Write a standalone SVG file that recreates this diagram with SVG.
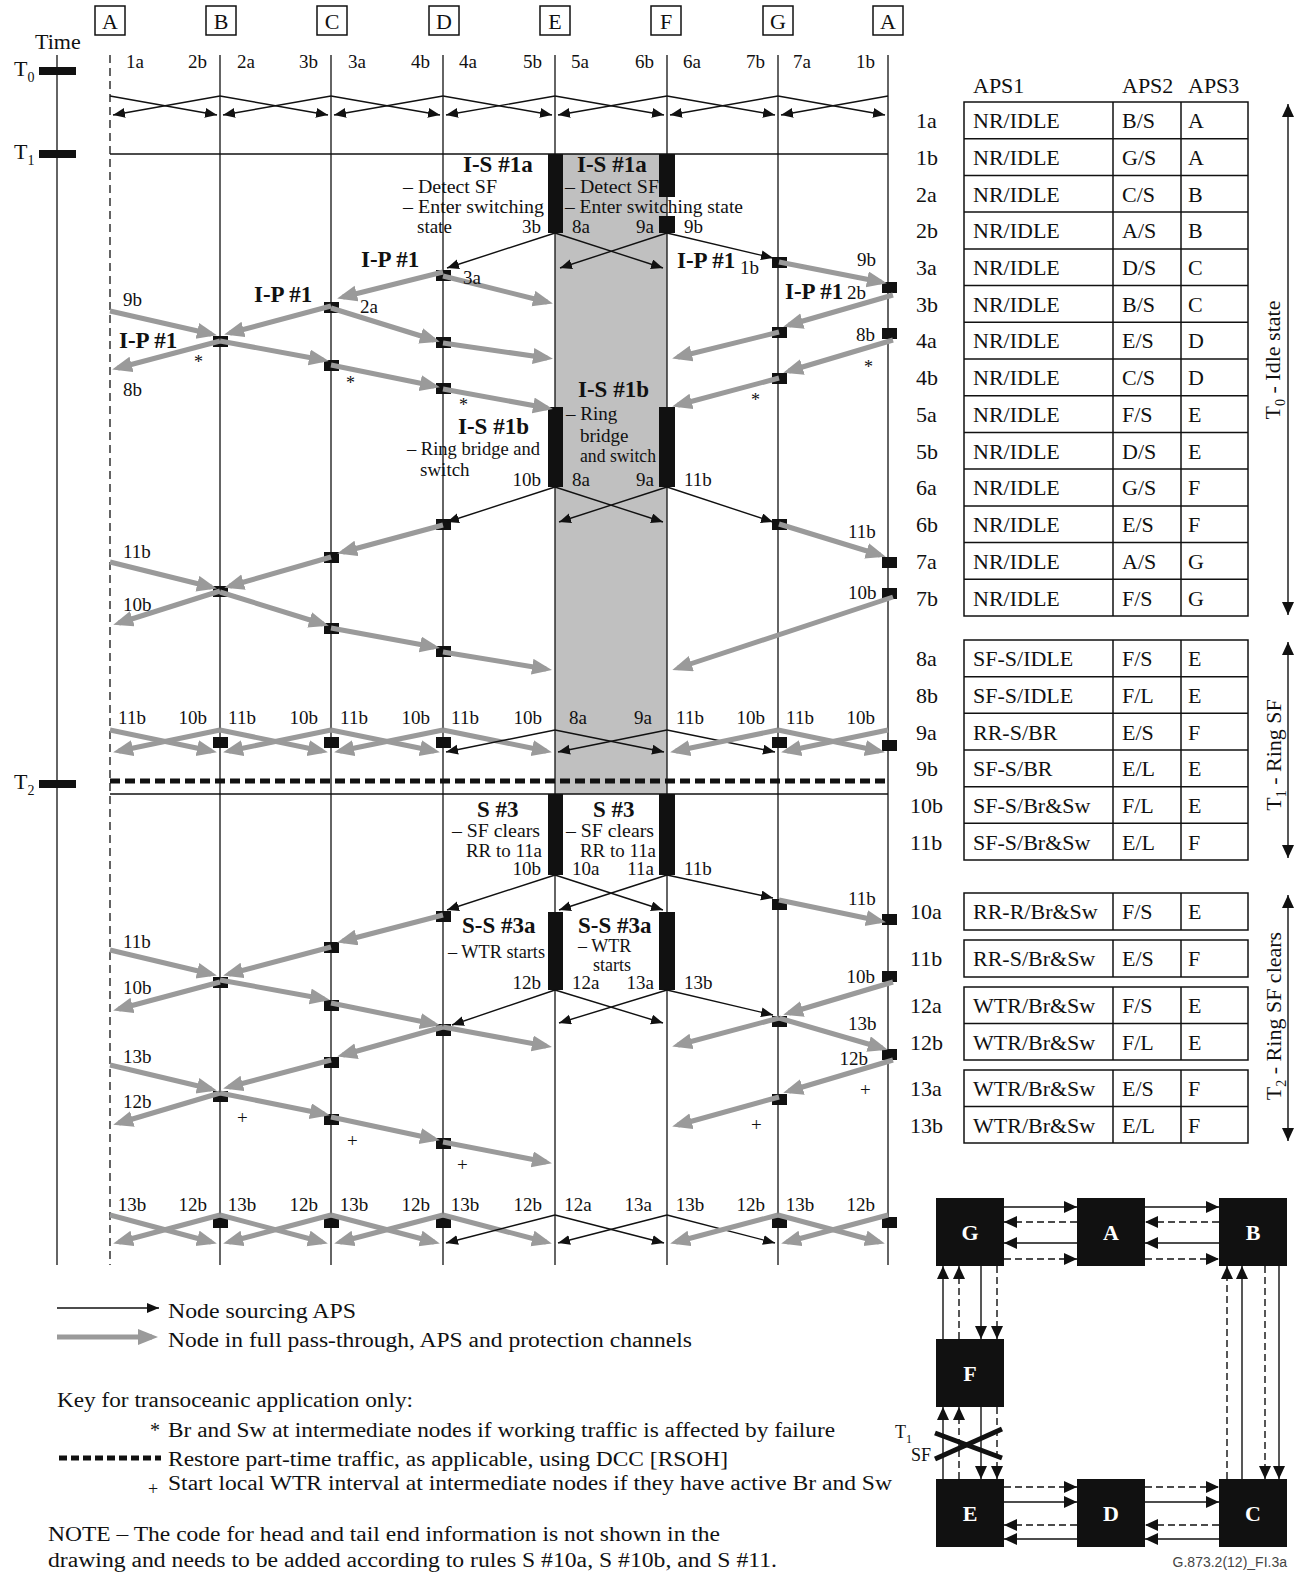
<svg xmlns="http://www.w3.org/2000/svg" width="1310" height="1573" viewBox="0 0 1310 1573">
<style>
text{font-family:"Liberation Serif","Times New Roman",serif;fill:#111}
.l{font-size:19px}
.d{font-size:19px}
.b{font-size:23px;font-weight:bold}
.h{font-size:22px}
.tb{font-size:22px}
.n{stroke:#111;stroke-width:1.3;fill:none}
.k{stroke:#111;stroke-width:1.4;fill:none;marker-end:url(#mb)}
.g{stroke:#9a9a9a;stroke-width:5;fill:none;marker-end:url(#mg)}
.sq{fill:#111}
.cell{fill:none;stroke:#111;stroke-width:1.5}
.rd{stroke-dasharray:7,4}
.w{fill:#fff;font-weight:bold;font-size:22px}
.rb{fill:#111}
</style>
<defs>
<marker id="mb" markerUnits="userSpaceOnUse" markerWidth="14" markerHeight="12" refX="12" refY="5" orient="auto"><path d="M0,0 L12,5 L0,10 z" fill="#111"/></marker>
<marker id="mg" markerUnits="userSpaceOnUse" markerWidth="22" markerHeight="18" refX="14" refY="8" orient="auto"><path d="M0,0 L20,8 L0,16 z" fill="#9a9a9a"/></marker>
<marker id="mt" markerUnits="userSpaceOnUse" markerWidth="14" markerHeight="14" refX="13" refY="6" orient="auto-start-reverse"><path d="M0,0 L13,6 L0,12 z" fill="#111"/></marker>
</defs>
<rect width="1310" height="1573" fill="#fff"/>

<!-- shaded switching span -->
<rect x="555" y="154" width="112" height="640" fill="#c0c0c0"/>

<!-- time axis -->
<g id="time-axis">
<text class="h" x="35" y="49">Time</text>
<line class="n" x1="57" y1="55" x2="57" y2="1265"/>
<rect x="39" y="67" width="37" height="8" fill="#111"/>
<rect x="39" y="150" width="37" height="8" fill="#111"/>
<rect x="39" y="780" width="37" height="8" fill="#111"/>
<text class="h" x="14" y="76">T<tspan dy="6" font-size="14">0</tspan></text>
<text class="h" x="14" y="159">T<tspan dy="6" font-size="14">1</tspan></text>
<text class="h" x="14" y="789">T<tspan dy="6" font-size="14">2</tspan></text>
</g>

<!-- horizontal event lines -->
<g id="event-lines">
<line class="n" x1="110" y1="154" x2="888" y2="154"/>
<line x1="110" y1="781" x2="888" y2="781" stroke="#111" stroke-width="5" stroke-dasharray="10,5"/>
<line class="n" x1="110" y1="794" x2="888" y2="794"/>
</g>

<!-- nodes -->
<g id="node-A-left">
<rect class="cell" x="95" y="6" width="30" height="29"/><text class="h" x="110" y="29" text-anchor="middle">A</text>
<line x1="110" y1="55" x2="110" y2="1265" stroke="#111" stroke-width="1.3" stroke-dasharray="8,5"/>
</g>
<g id="node-B">
<rect class="cell" x="206" y="6" width="30" height="29"/><text class="h" x="221" y="29" text-anchor="middle">B</text>
<line class="n" x1="220" y1="55" x2="220" y2="1265"/>
<rect class="sq" x="213" y="336" width="15" height="11"/>
<rect class="sq" x="213" y="586" width="15" height="11"/>
<rect class="sq" x="213" y="737" width="15" height="11"/>
<rect class="sq" x="213" y="977" width="15" height="11"/>
<rect class="sq" x="213" y="1091" width="15" height="11"/>
<rect class="sq" x="213" y="1217" width="15" height="11"/>
</g>
<g id="node-C">
<rect class="cell" x="317" y="6" width="30" height="29"/><text class="h" x="332" y="29" text-anchor="middle">C</text>
<line class="n" x1="331" y1="55" x2="331" y2="1265"/>
<rect class="sq" x="324" y="302" width="15" height="11"/>
<rect class="sq" x="324" y="360" width="15" height="11"/>
<rect class="sq" x="324" y="552" width="15" height="11"/>
<rect class="sq" x="324" y="623" width="15" height="11"/>
<rect class="sq" x="324" y="737" width="15" height="11"/>
<rect class="sq" x="324" y="942" width="15" height="11"/>
<rect class="sq" x="324" y="1000" width="15" height="11"/>
<rect class="sq" x="324" y="1057" width="15" height="11"/>
<rect class="sq" x="324" y="1114" width="15" height="11"/>
<rect class="sq" x="324" y="1217" width="15" height="11"/>
</g>
<g id="node-D">
<rect class="cell" x="429" y="6" width="30" height="29"/><text class="h" x="444" y="29" text-anchor="middle">D</text>
<line class="n" x1="443" y1="55" x2="443" y2="1265"/>
<rect class="sq" x="436" y="270" width="15" height="11"/>
<rect class="sq" x="436" y="337" width="15" height="11"/>
<rect class="sq" x="436" y="383" width="15" height="11"/>
<rect class="sq" x="436" y="519" width="15" height="11"/>
<rect class="sq" x="436" y="646" width="15" height="11"/>
<rect class="sq" x="436" y="737" width="15" height="11"/>
<rect class="sq" x="436" y="911" width="15" height="11"/>
<rect class="sq" x="436" y="1024" width="15" height="12"/>
<rect class="sq" x="436" y="1138" width="15" height="11"/>
<rect class="sq" x="436" y="1217" width="15" height="11"/>
</g>
<g id="node-E">
<rect class="cell" x="540" y="6" width="30" height="29"/><text class="h" x="555" y="29" text-anchor="middle">E</text>
<line class="n" x1="555" y1="55" x2="555" y2="1265"/>
<rect class="rb" x="548" y="154" width="15" height="79"/>
<rect class="rb" x="548" y="407" width="15" height="80"/>
<rect class="rb" x="548" y="794" width="15" height="81"/>
<rect class="rb" x="548" y="912" width="15" height="78"/>
</g>
<g id="node-F">
<rect class="cell" x="651" y="6" width="30" height="29"/><text class="h" x="666" y="29" text-anchor="middle">F</text>
<line class="n" x1="667" y1="55" x2="667" y2="1265"/>
<rect class="rb" x="659" y="154" width="16" height="43"/>
<rect class="rb" x="659" y="216" width="16" height="17"/>
<rect class="rb" x="659" y="407" width="16" height="80"/>
<rect class="rb" x="659" y="794" width="16" height="81"/>
<rect class="rb" x="659" y="912" width="16" height="78"/>
</g>
<g id="node-G">
<rect class="cell" x="763" y="6" width="30" height="29"/><text class="h" x="778" y="29" text-anchor="middle">G</text>
<line class="n" x1="778" y1="55" x2="778" y2="1265"/>
<rect class="sq" x="772" y="257" width="15" height="11"/>
<rect class="sq" x="772" y="327" width="15" height="11"/>
<rect class="sq" x="772" y="373" width="15" height="11"/>
<rect class="sq" x="772" y="519" width="15" height="11"/>
<rect class="sq" x="772" y="737" width="15" height="11"/>
<rect class="sq" x="772" y="899" width="15" height="11"/>
<rect class="sq" x="772" y="1016" width="15" height="11"/>
<rect class="sq" x="772" y="1094" width="15" height="11"/>
<rect class="sq" x="772" y="1217" width="15" height="11"/>
</g>
<g id="node-A-right">
<rect class="cell" x="873" y="6" width="30" height="29"/><text class="h" x="888" y="29" text-anchor="middle">A</text>
<line class="n" x1="888" y1="55" x2="888" y2="1265"/>
<rect class="sq" x="882" y="282" width="15" height="11"/>
<rect class="sq" x="882" y="328" width="15" height="11"/>
<rect class="sq" x="882" y="557" width="15" height="11"/>
<rect class="sq" x="882" y="588" width="15" height="11"/>
<rect class="sq" x="882" y="740" width="15" height="11"/>
<rect class="sq" x="882" y="914" width="15" height="11"/>
<rect class="sq" x="882" y="971" width="15" height="11"/>
<rect class="sq" x="882" y="1049" width="15" height="11"/>
<rect class="sq" x="882" y="1217" width="15" height="11"/>
</g>

<!-- connectors -->
<g id="connectors">
<!-- T0 idle exchange -->
<line class="k" x1="110" y1="96" x2="217" y2="115"/><line class="k" x1="220" y1="96" x2="113" y2="115"/>
<line class="k" x1="220" y1="96" x2="328" y2="115"/><line class="k" x1="331" y1="96" x2="223" y2="115"/>
<line class="k" x1="331" y1="96" x2="440" y2="115"/><line class="k" x1="443" y1="96" x2="334" y2="115"/>
<line class="k" x1="443" y1="96" x2="552" y2="115"/><line class="k" x1="555" y1="96" x2="446" y2="115"/>
<line class="k" x1="555" y1="96" x2="664" y2="115"/><line class="k" x1="667" y1="96" x2="558" y2="115"/>
<line class="k" x1="667" y1="96" x2="775" y2="115"/><line class="k" x1="778" y1="96" x2="670" y2="115"/>
<line class="k" x1="778" y1="96" x2="885" y2="115"/><line class="k" x1="888" y1="96" x2="781" y2="115"/>

<!-- T1 phase 1 black -->
<line class="k" x1="555" y1="233" x2="447" y2="268"/>
<line class="k" x1="555" y1="233" x2="663" y2="268"/>
<line class="k" x1="667" y1="233" x2="560" y2="268"/>
<line class="k" x1="667" y1="233" x2="773" y2="258"/>
<!-- phase 1 gray left -->
<line class="g" x1="443" y1="272" x2="343" y2="297"/>
<line class="g" x1="331" y1="306" x2="230" y2="333"/>
<line class="g" x1="220" y1="341" x2="118" y2="368"/>
<line class="g" x1="110" y1="311" x2="211" y2="334"/>
<line class="g" x1="220" y1="341" x2="323" y2="360"/>
<line class="g" x1="331" y1="365" x2="434" y2="386"/>
<line class="g" x1="443" y1="389" x2="547" y2="408"/>
<line class="g" x1="331" y1="308" x2="434" y2="340"/>
<line class="g" x1="443" y1="343" x2="547" y2="358"/>
<line class="g" x1="443" y1="276" x2="547" y2="302"/>
<!-- phase 1 gray right -->
<line class="g" x1="779" y1="262" x2="881" y2="282"/>
<line class="g" x1="893" y1="295" x2="789" y2="325"/>
<line class="g" x1="779" y1="332" x2="678" y2="357"/>
<line class="g" x1="893" y1="340" x2="789" y2="371"/>
<line class="g" x1="779" y1="378" x2="678" y2="405"/>

<!-- phase 2 black -->
<line class="k" x1="555" y1="487" x2="447" y2="522"/>
<line class="k" x1="555" y1="487" x2="663" y2="522"/>
<line class="k" x1="667" y1="487" x2="559" y2="522"/>
<line class="k" x1="667" y1="487" x2="773" y2="522"/>
<!-- phase 2 gray left -->
<line class="g" x1="443" y1="525" x2="343" y2="552"/>
<line class="g" x1="331" y1="557" x2="230" y2="586"/>
<line class="g" x1="220" y1="591" x2="119" y2="623"/>
<line class="g" x1="110" y1="562" x2="211" y2="587"/>
<line class="g" x1="220" y1="592" x2="323" y2="624"/>
<line class="g" x1="331" y1="628" x2="434" y2="647"/>
<line class="g" x1="443" y1="652" x2="546" y2="669"/>
<!-- phase 2 gray right -->
<line class="g" x1="779" y1="524" x2="880" y2="555"/>
<line class="g" x1="893" y1="597" x2="678" y2="668"/>

<!-- phase 2 steady-state exchange -->
<line class="g" x1="110" y1="730" x2="211" y2="751"/><line class="g" x1="220" y1="730" x2="119" y2="751"/>
<line class="g" x1="220" y1="730" x2="322" y2="751"/><line class="g" x1="331" y1="730" x2="229" y2="751"/>
<line class="g" x1="331" y1="730" x2="434" y2="751"/><line class="g" x1="443" y1="730" x2="340" y2="751"/>
<line class="g" x1="443" y1="730" x2="546" y2="751"/><line class="k" x1="555" y1="730" x2="446" y2="752"/>
<line class="k" x1="555" y1="730" x2="664" y2="752"/><line class="k" x1="667" y1="730" x2="558" y2="752"/>
<line class="k" x1="667" y1="730" x2="775" y2="752"/><line class="g" x1="778" y1="730" x2="676" y2="751"/>
<line class="g" x1="778" y1="730" x2="879" y2="751"/><line class="g" x1="888" y1="730" x2="787" y2="751"/>

<!-- phase 3 black -->
<line class="k" x1="555" y1="875" x2="447" y2="910"/>
<line class="k" x1="555" y1="875" x2="663" y2="910"/>
<line class="k" x1="667" y1="875" x2="559" y2="910"/>
<line class="k" x1="667" y1="875" x2="773" y2="898"/>
<line class="k" x1="555" y1="990" x2="452" y2="1025"/>
<line class="k" x1="555" y1="990" x2="663" y2="1023"/>
<line class="k" x1="667" y1="990" x2="559" y2="1023"/>
<line class="k" x1="667" y1="990" x2="773" y2="1015"/>
<!-- phase 3 gray left -->
<line class="g" x1="443" y1="915" x2="343" y2="941"/>
<line class="g" x1="331" y1="947" x2="229" y2="974"/>
<line class="g" x1="220" y1="982" x2="119" y2="1009"/>
<line class="g" x1="110" y1="950" x2="211" y2="974"/>
<line class="g" x1="220" y1="980" x2="324" y2="999"/>
<line class="g" x1="331" y1="1003" x2="434" y2="1024"/>
<line class="g" x1="443" y1="1027" x2="546" y2="1046"/>
<line class="g" x1="443" y1="1027" x2="343" y2="1055"/>
<line class="g" x1="331" y1="1060" x2="229" y2="1087"/>
<line class="g" x1="220" y1="1093" x2="119" y2="1123"/>
<line class="g" x1="110" y1="1065" x2="211" y2="1089"/>
<line class="g" x1="220" y1="1093" x2="324" y2="1114"/>
<line class="g" x1="331" y1="1117" x2="434" y2="1139"/>
<line class="g" x1="443" y1="1142" x2="546" y2="1162"/>
<!-- phase 3 gray right -->
<line class="g" x1="779" y1="900" x2="880" y2="921"/>
<line class="g" x1="893" y1="982" x2="789" y2="1013"/>
<line class="g" x1="779" y1="1018" x2="678" y2="1045"/>
<line class="g" x1="779" y1="1018" x2="882" y2="1048"/>
<line class="g" x1="893" y1="1060" x2="789" y2="1091"/>
<line class="g" x1="779" y1="1097" x2="678" y2="1125"/>

<!-- final steady exchange -->
<line class="g" x1="110" y1="1215" x2="211" y2="1242"/><line class="g" x1="220" y1="1215" x2="119" y2="1242"/>
<line class="g" x1="220" y1="1215" x2="322" y2="1242"/><line class="g" x1="331" y1="1215" x2="229" y2="1242"/>
<line class="g" x1="331" y1="1215" x2="434" y2="1242"/><line class="g" x1="443" y1="1215" x2="340" y2="1242"/>
<line class="g" x1="443" y1="1215" x2="546" y2="1242"/><line class="k" x1="555" y1="1215" x2="446" y2="1243"/>
<line class="k" x1="555" y1="1215" x2="664" y2="1243"/><line class="k" x1="667" y1="1215" x2="558" y2="1243"/>
<line class="k" x1="667" y1="1215" x2="775" y2="1243"/><line class="g" x1="778" y1="1215" x2="676" y2="1242"/>
<line class="g" x1="778" y1="1215" x2="879" y2="1242"/><line class="g" x1="888" y1="1215" x2="787" y2="1242"/>
</g>

<!-- message labels -->
<g id="labels">
<g class="l">
<text x="135" y="68" text-anchor="middle">1a</text><text x="207" y="68" text-anchor="end">2b</text>
<text x="246" y="68" text-anchor="middle">2a</text><text x="318" y="68" text-anchor="end">3b</text>
<text x="357" y="68" text-anchor="middle">3a</text><text x="430" y="68" text-anchor="end">4b</text>
<text x="468" y="68" text-anchor="middle">4a</text><text x="542" y="68" text-anchor="end">5b</text>
<text x="580" y="68" text-anchor="middle">5a</text><text x="654" y="68" text-anchor="end">6b</text>
<text x="692" y="68" text-anchor="middle">6a</text><text x="765" y="68" text-anchor="end">7b</text>
<text x="802" y="68" text-anchor="middle">7a</text><text x="875" y="68" text-anchor="end">1b</text>

<text x="132" y="724" text-anchor="middle">11b</text><text x="207" y="724" text-anchor="end">10b</text>
<text x="242" y="724" text-anchor="middle">11b</text><text x="318" y="724" text-anchor="end">10b</text>
<text x="354" y="724" text-anchor="middle">11b</text><text x="430" y="724" text-anchor="end">10b</text>
<text x="465" y="724" text-anchor="middle">11b</text><text x="542" y="724" text-anchor="end">10b</text>
<text x="578" y="724" text-anchor="middle">8a</text><text x="652" y="724" text-anchor="end">9a</text>
<text x="690" y="724" text-anchor="middle">11b</text><text x="765" y="724" text-anchor="end">10b</text>
<text x="800" y="724" text-anchor="middle">11b</text><text x="875" y="724" text-anchor="end">10b</text>

<text x="132" y="1211" text-anchor="middle">13b</text><text x="207" y="1211" text-anchor="end">12b</text>
<text x="242" y="1211" text-anchor="middle">13b</text><text x="318" y="1211" text-anchor="end">12b</text>
<text x="354" y="1211" text-anchor="middle">13b</text><text x="430" y="1211" text-anchor="end">12b</text>
<text x="465" y="1211" text-anchor="middle">13b</text><text x="542" y="1211" text-anchor="end">12b</text>
<text x="578" y="1211" text-anchor="middle">12a</text><text x="652" y="1211" text-anchor="end">13a</text>
<text x="690" y="1211" text-anchor="middle">13b</text><text x="765" y="1211" text-anchor="end">12b</text>
<text x="800" y="1211" text-anchor="middle">13b</text><text x="875" y="1211" text-anchor="end">12b</text>

<text x="541" y="233" text-anchor="end">3b</text><text x="572" y="233">8a</text>
<text x="654" y="233" text-anchor="end">9a</text><text x="684" y="233">9b</text>
<text x="463" y="284">3a</text><text x="360" y="313">2a</text>
<text x="123" y="306">9b</text><text x="123" y="396">8b</text>
<text x="740" y="274">1b</text><text x="857" y="266">9b</text>
<text x="847" y="299">2b</text><text x="856" y="341">8b</text>
<text x="541" y="486" text-anchor="end">10b</text><text x="572" y="486">8a</text>
<text x="654" y="486" text-anchor="end">9a</text><text x="684" y="486">11b</text>
<text x="123" y="558">11b</text><text x="123" y="611">10b</text>
<text x="848" y="538">11b</text><text x="848" y="599">10b</text>
<text x="541" y="875" text-anchor="end">10b</text><text x="572" y="875">10a</text>
<text x="654" y="875" text-anchor="end">11a</text><text x="684" y="875">11b</text>
<text x="541" y="989" text-anchor="end">12b</text><text x="572" y="989">12a</text>
<text x="654" y="989" text-anchor="end">13a</text><text x="684" y="989">13b</text>
<text x="123" y="948">11b</text><text x="123" y="994">10b</text>
<text x="123" y="1063">13b</text><text x="123" y="1108">12b</text>
<text x="848" y="905">11b</text><text x="875" y="983" text-anchor="end">10b</text>
<text x="848" y="1030">13b</text><text x="868" y="1065" text-anchor="end">12b</text>
</g>
<g font-size="18">
<text x="194" y="368">*</text><text x="346" y="389">*</text><text x="459" y="411">*</text>
<text x="751" y="406">*</text><text x="864" y="373">*</text>
</g>
<g class="d">
<text x="237" y="1124">+</text><text x="347" y="1147">+</text><text x="457" y="1171">+</text>
<text x="860" y="1096">+</text><text x="751" y="1131">+</text>
</g>

<g class="b">
<text x="463" y="172">I-S #1a</text><text x="577" y="172">I-S #1a</text>
<text x="361" y="267">I-P #1</text><text x="254" y="302">I-P #1</text><text x="119" y="348">I-P #1</text>
<text x="677" y="268">I-P #1</text><text x="785" y="299">I-P #1</text>
<text x="458" y="434">I-S #1b</text><text x="578" y="397">I-S #1b</text>
<text x="477" y="817">S #3</text><text x="593" y="817">S #3</text>
<text x="462" y="933">S-S #3a</text><text x="578" y="933">S-S #3a</text>
</g>
<g class="d">
<text x="403" y="193" textLength="94" lengthAdjust="spacingAndGlyphs">– Detect SF</text>
<text x="403" y="213" textLength="141" lengthAdjust="spacingAndGlyphs">– Enter switching</text>
<text x="417" y="233">state</text>
<text x="565" y="193" textLength="94" lengthAdjust="spacingAndGlyphs">– Detect SF</text>
<text x="565" y="213" textLength="178" lengthAdjust="spacingAndGlyphs">– Enter switching state</text>
<text x="407" y="455" textLength="133" lengthAdjust="spacingAndGlyphs">– Ring bridge and</text>
<text x="420" y="476">switch</text>
<text x="566" y="420">– Ring</text>
<text x="580" y="442">bridge</text>
<text x="580" y="462" textLength="76" lengthAdjust="spacingAndGlyphs">and switch</text>
<text x="452" y="837" textLength="88" lengthAdjust="spacingAndGlyphs">– SF clears</text>
<text x="466" y="857" textLength="76" lengthAdjust="spacingAndGlyphs">RR to 11a</text>
<text x="566" y="837" textLength="88" lengthAdjust="spacingAndGlyphs">– SF clears</text>
<text x="580" y="857" textLength="76" lengthAdjust="spacingAndGlyphs">RR to 11a</text>
<text x="448" y="958" textLength="97" lengthAdjust="spacingAndGlyphs">– WTR starts</text>
<text x="578" y="952" font-size="18">– WTR</text>
<text x="593" y="971" font-size="18">starts</text>
</g>
</g>

<!-- APS tables -->
<g id="aps-table">
<g class="tb">
<text x="973" y="93">APS1</text><text x="1122" y="93">APS2</text><text x="1188" y="93">APS3</text>
</g>
<g class="cell">
<rect x="964" y="102" width="284" height="514"/>
<line x1="1113" y1="102" x2="1113" y2="616"/><line x1="1181" y1="102" x2="1181" y2="616"/>
<line x1="964" y1="138.7" x2="1248" y2="138.7"/><line x1="964" y1="175.4" x2="1248" y2="175.4"/>
<line x1="964" y1="212.1" x2="1248" y2="212.1"/><line x1="964" y1="248.9" x2="1248" y2="248.9"/>
<line x1="964" y1="285.6" x2="1248" y2="285.6"/><line x1="964" y1="322.3" x2="1248" y2="322.3"/>
<line x1="964" y1="359" x2="1248" y2="359"/><line x1="964" y1="395.7" x2="1248" y2="395.7"/>
<line x1="964" y1="432.4" x2="1248" y2="432.4"/><line x1="964" y1="469.1" x2="1248" y2="469.1"/>
<line x1="964" y1="505.9" x2="1248" y2="505.9"/><line x1="964" y1="542.6" x2="1248" y2="542.6"/>
<line x1="964" y1="579.3" x2="1248" y2="579.3"/>
<rect x="964" y="640" width="284" height="220"/>
<line x1="1113" y1="640" x2="1113" y2="860"/><line x1="1181" y1="640" x2="1181" y2="860"/>
<line x1="964" y1="676.7" x2="1248" y2="676.7"/><line x1="964" y1="713.3" x2="1248" y2="713.3"/>
<line x1="964" y1="750" x2="1248" y2="750"/><line x1="964" y1="786.7" x2="1248" y2="786.7"/>
<line x1="964" y1="823.3" x2="1248" y2="823.3"/>
<rect x="964" y="893" width="284" height="37"/>
<line x1="1113" y1="893" x2="1113" y2="930"/><line x1="1181" y1="893" x2="1181" y2="930"/>
<rect x="964" y="940" width="284" height="37"/>
<line x1="1113" y1="940" x2="1113" y2="977"/><line x1="1181" y1="940" x2="1181" y2="977"/>
<rect x="964" y="987" width="284" height="73"/>
<line x1="1113" y1="987" x2="1113" y2="1060"/><line x1="1181" y1="987" x2="1181" y2="1060"/>
<line x1="964" y1="1023.5" x2="1248" y2="1023.5"/>
<rect x="964" y="1070" width="284" height="73"/>
<line x1="1113" y1="1070" x2="1113" y2="1143"/><line x1="1181" y1="1070" x2="1181" y2="1143"/>
<line x1="964" y1="1106.5" x2="1248" y2="1106.5"/>
</g>
<g class="tb">
<text x="916" y="128">1a</text><text x="973" y="128">NR/IDLE</text><text x="1122" y="128">B/S</text><text x="1188" y="128">A</text>
<text x="916" y="165">1b</text><text x="973" y="165">NR/IDLE</text><text x="1122" y="165">G/S</text><text x="1188" y="165">A</text>
<text x="916" y="202">2a</text><text x="973" y="202">NR/IDLE</text><text x="1122" y="202">C/S</text><text x="1188" y="202">B</text>
<text x="916" y="238">2b</text><text x="973" y="238">NR/IDLE</text><text x="1122" y="238">A/S</text><text x="1188" y="238">B</text>
<text x="916" y="275">3a</text><text x="973" y="275">NR/IDLE</text><text x="1122" y="275">D/S</text><text x="1188" y="275">C</text>
<text x="916" y="312">3b</text><text x="973" y="312">NR/IDLE</text><text x="1122" y="312">B/S</text><text x="1188" y="312">C</text>
<text x="916" y="348">4a</text><text x="973" y="348">NR/IDLE</text><text x="1122" y="348">E/S</text><text x="1188" y="348">D</text>
<text x="916" y="385">4b</text><text x="973" y="385">NR/IDLE</text><text x="1122" y="385">C/S</text><text x="1188" y="385">D</text>
<text x="916" y="422">5a</text><text x="973" y="422">NR/IDLE</text><text x="1122" y="422">F/S</text><text x="1188" y="422">E</text>
<text x="916" y="459">5b</text><text x="973" y="459">NR/IDLE</text><text x="1122" y="459">D/S</text><text x="1188" y="459">E</text>
<text x="916" y="495">6a</text><text x="973" y="495">NR/IDLE</text><text x="1122" y="495">G/S</text><text x="1188" y="495">F</text>
<text x="916" y="532">6b</text><text x="973" y="532">NR/IDLE</text><text x="1122" y="532">E/S</text><text x="1188" y="532">F</text>
<text x="916" y="569">7a</text><text x="973" y="569">NR/IDLE</text><text x="1122" y="569">A/S</text><text x="1188" y="569">G</text>
<text x="916" y="606">7b</text><text x="973" y="606">NR/IDLE</text><text x="1122" y="606">F/S</text><text x="1188" y="606">G</text>

<text x="916" y="666">8a</text><text x="973" y="666">SF-S/IDLE</text><text x="1122" y="666">F/S</text><text x="1188" y="666">E</text>
<text x="916" y="703">8b</text><text x="973" y="703">SF-S/IDLE</text><text x="1122" y="703">F/L</text><text x="1188" y="703">E</text>
<text x="916" y="740">9a</text><text x="973" y="740">RR-S/BR</text><text x="1122" y="740">E/S</text><text x="1188" y="740">F</text>
<text x="916" y="776">9b</text><text x="973" y="776">SF-S/BR</text><text x="1122" y="776">E/L</text><text x="1188" y="776">E</text>
<text x="910" y="813">10b</text><text x="973" y="813">SF-S/Br&amp;Sw</text><text x="1122" y="813">F/L</text><text x="1188" y="813">E</text>
<text x="910" y="850">11b</text><text x="973" y="850">SF-S/Br&amp;Sw</text><text x="1122" y="850">E/L</text><text x="1188" y="850">F</text>

<text x="910" y="919">10a</text><text x="973" y="919">RR-R/Br&amp;Sw</text><text x="1122" y="919">F/S</text><text x="1188" y="919">E</text>
<text x="910" y="966">11b</text><text x="973" y="966">RR-S/Br&amp;Sw</text><text x="1122" y="966">E/S</text><text x="1188" y="966">F</text>
<text x="910" y="1013">12a</text><text x="973" y="1013">WTR/Br&amp;Sw</text><text x="1122" y="1013">F/S</text><text x="1188" y="1013">E</text>
<text x="910" y="1050">12b</text><text x="973" y="1050">WTR/Br&amp;Sw</text><text x="1122" y="1050">F/L</text><text x="1188" y="1050">E</text>
<text x="910" y="1096">13a</text><text x="973" y="1096">WTR/Br&amp;Sw</text><text x="1122" y="1096">E/S</text><text x="1188" y="1096">F</text>
<text x="910" y="1133">13b</text><text x="973" y="1133">WTR/Br&amp;Sw</text><text x="1122" y="1133">E/L</text><text x="1188" y="1133">F</text>
</g>
<line x1="1288" y1="104" x2="1288" y2="615" stroke="#111" stroke-width="1.4" marker-start="url(#mt)" marker-end="url(#mt)"/>
<line x1="1288" y1="642" x2="1288" y2="858" stroke="#111" stroke-width="1.4" marker-start="url(#mt)" marker-end="url(#mt)"/>
<line x1="1288" y1="895" x2="1288" y2="1141" stroke="#111" stroke-width="1.4" marker-start="url(#mt)" marker-end="url(#mt)"/>
<text class="tb" transform="translate(1280,360) rotate(-90)" text-anchor="middle">T<tspan dy="5" font-size="14">0</tspan><tspan dy="-5"> - Idle state</tspan></text>
<text class="tb" transform="translate(1281,755) rotate(-90)" text-anchor="middle">T<tspan dy="5" font-size="14">1</tspan><tspan dy="-5"> - Ring SF</tspan></text>
<text class="tb" transform="translate(1281,1016) rotate(-90)" text-anchor="middle">T<tspan dy="5" font-size="14">2</tspan><tspan dy="-5"> - Ring SF clears</tspan></text>
</g>

<!-- ring topology -->
<g id="ring-links" stroke="#111" stroke-width="1.4" fill="none">
<line x1="1004" y1="1207" x2="1077" y2="1207" marker-end="url(#mt)"/>
<line x1="1077" y1="1222" x2="1004" y2="1222" class="rd" marker-end="url(#mt)"/>
<line x1="1077" y1="1243" x2="1004" y2="1243" marker-end="url(#mt)"/>
<line x1="1004" y1="1259" x2="1077" y2="1259" class="rd" marker-end="url(#mt)"/>
<line x1="1145" y1="1207" x2="1219" y2="1207" marker-end="url(#mt)"/>
<line x1="1219" y1="1222" x2="1145" y2="1222" class="rd" marker-end="url(#mt)"/>
<line x1="1219" y1="1243" x2="1145" y2="1243" marker-end="url(#mt)"/>
<line x1="1145" y1="1259" x2="1219" y2="1259" class="rd" marker-end="url(#mt)"/>
<line x1="1004" y1="1487" x2="1077" y2="1487" class="rd" marker-end="url(#mt)"/>
<line x1="1004" y1="1502" x2="1077" y2="1502" marker-end="url(#mt)"/>
<line x1="1077" y1="1525" x2="1004" y2="1525" class="rd" marker-end="url(#mt)"/>
<line x1="1077" y1="1539" x2="1004" y2="1539" marker-end="url(#mt)"/>
<line x1="1145" y1="1487" x2="1219" y2="1487" class="rd" marker-end="url(#mt)"/>
<line x1="1145" y1="1502" x2="1219" y2="1502" marker-end="url(#mt)"/>
<line x1="1219" y1="1525" x2="1145" y2="1525" class="rd" marker-end="url(#mt)"/>
<line x1="1219" y1="1539" x2="1145" y2="1539" marker-end="url(#mt)"/>
<line x1="943" y1="1339" x2="943" y2="1266" marker-end="url(#mt)"/>
<line x1="959" y1="1339" x2="959" y2="1266" class="rd" marker-end="url(#mt)"/>
<line x1="981" y1="1266" x2="981" y2="1339" marker-end="url(#mt)"/>
<line x1="997" y1="1266" x2="997" y2="1339" class="rd" marker-end="url(#mt)"/>
<line x1="943" y1="1479" x2="943" y2="1407" marker-end="url(#mt)"/>
<line x1="959" y1="1479" x2="959" y2="1407" class="rd" marker-end="url(#mt)"/>
<line x1="981" y1="1407" x2="981" y2="1479" marker-end="url(#mt)"/>
<line x1="997" y1="1407" x2="997" y2="1479" class="rd" marker-end="url(#mt)"/>
<line x1="1227" y1="1479" x2="1227" y2="1266" class="rd" marker-end="url(#mt)"/>
<line x1="1242" y1="1479" x2="1242" y2="1266" marker-end="url(#mt)"/>
<line x1="1265" y1="1266" x2="1265" y2="1479" class="rd" marker-end="url(#mt)"/>
<line x1="1279" y1="1266" x2="1279" y2="1479" marker-end="url(#mt)"/>
<line x1="935" y1="1459" x2="1002" y2="1429" stroke-width="5"/>
<line x1="935" y1="1433" x2="1002" y2="1458" stroke-width="5"/>
</g>
<g id="ring-G"><rect class="rb" x="936" y="1198" width="68" height="68"/><text class="w" x="970" y="1240" text-anchor="middle">G</text></g>
<g id="ring-A"><rect class="rb" x="1077" y="1198" width="68" height="68"/><text class="w" x="1111" y="1240" text-anchor="middle">A</text></g>
<g id="ring-B"><rect class="rb" x="1219" y="1198" width="68" height="68"/><text class="w" x="1253" y="1240" text-anchor="middle">B</text></g>
<g id="ring-F"><rect class="rb" x="936" y="1339" width="68" height="68"/><text class="w" x="970" y="1381" text-anchor="middle">F</text></g>
<g id="ring-E"><rect class="rb" x="936" y="1479" width="68" height="68"/><text class="w" x="970" y="1521" text-anchor="middle">E</text></g>
<g id="ring-D"><rect class="rb" x="1077" y="1479" width="68" height="68"/><text class="w" x="1111" y="1521" text-anchor="middle">D</text></g>
<g id="ring-C"><rect class="rb" x="1219" y="1479" width="68" height="68"/><text class="w" x="1253" y="1521" text-anchor="middle">C</text></g>
<text x="895" y="1438" font-size="18">T<tspan dy="5" font-size="12">1</tspan></text>
<text x="931" y="1461" font-size="18" text-anchor="end">SF</text>
<text x="1287" y="1567" text-anchor="end" style="font-family:'Liberation Sans',Arial,sans-serif;font-size:14px;fill:#444">G.873.2(12)_FI.3a</text>

<!-- legend -->
<g id="legend">
<line class="k" x1="57" y1="1308" x2="159" y2="1308"/>
<line class="g" x1="57" y1="1337" x2="152" y2="1337"/>
<line x1="59" y1="1458" x2="161" y2="1458" stroke="#111" stroke-width="5" stroke-dasharray="8,4"/>
<g font-size="20">
<text x="168" y="1318" textLength="188" lengthAdjust="spacingAndGlyphs">Node sourcing APS</text>
<text x="168" y="1347" textLength="524" lengthAdjust="spacingAndGlyphs">Node in full pass-through, APS and protection channels</text>
<text x="57" y="1407" textLength="356" lengthAdjust="spacingAndGlyphs">Key for transoceanic application only:</text>
<text x="150" y="1437">*</text>
<text x="168" y="1437" textLength="667" lengthAdjust="spacingAndGlyphs">Br and Sw at intermediate nodes if working traffic is affected by failure</text>
<text x="168" y="1466" textLength="560" lengthAdjust="spacingAndGlyphs">Restore part-time traffic, as applicable, using DCC [RSOH]</text>
<text x="148" y="1495" font-size="18">+</text>
<text x="168" y="1490" textLength="724" lengthAdjust="spacingAndGlyphs">Start  local WTR interval at intermediate nodes if they have active Br and Sw</text>
<text x="48" y="1541" textLength="672" lengthAdjust="spacingAndGlyphs">NOTE – The code for head and tail end information is not shown in the</text>
<text x="48" y="1567" textLength="729" lengthAdjust="spacingAndGlyphs">drawing and needs to be added according to rules S #10a, S #10b, and S #11.</text>
</g>
</g>
</svg>
